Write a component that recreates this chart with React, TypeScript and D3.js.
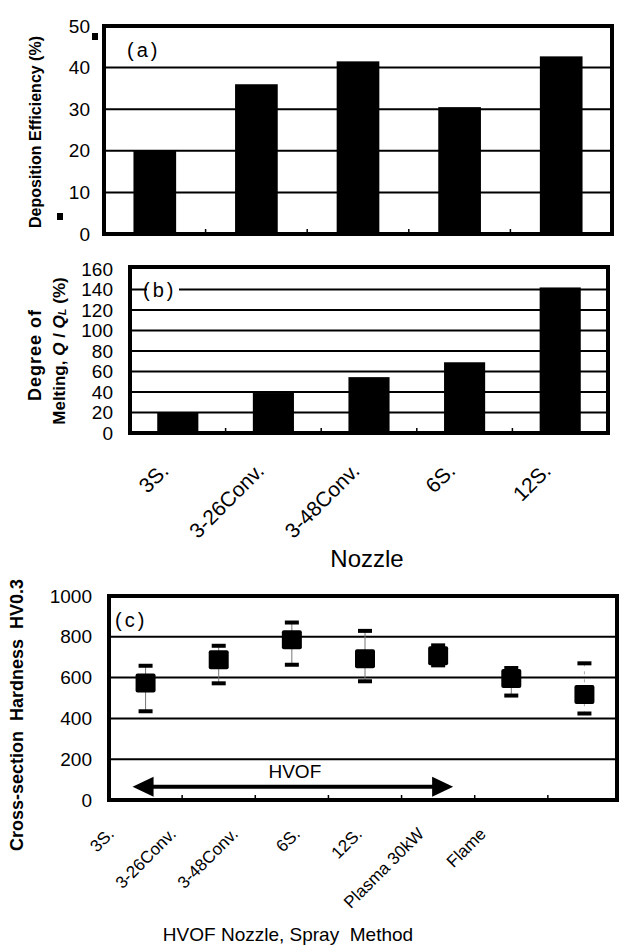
import React from "react";
import * as d3 from "d3";

// --- data ---
const NOZZLES = ["3S.", "3-26Conv.", "3-48Conv.", "6S.", "12S."];
const DEPOSITION = [20, 36, 41.5, 30.5, 42.7]; // (a) %
const MELTING = [20, 39, 54.5, 69, 142]; // (b) Q/QL %

const METHODS = ["3S.", "3-26Conv.", "3-48Conv.", "6S.", "12S.", "Plasma 30kW", "Flame"];
const HARD_MEAN = [573, 688, 785, 693, 707, 595, 517];
const HARD_MAX = [658, 756, 870, 829, 758, 647, 670];
const HARD_MIN = [435, 572, 663, 582, 660, 512, 424];

const TICKS_A = [0, 10, 20, 30, 40, 50];
const TICKS_B = [0, 20, 40, 60, 80, 100, 120, 140, 160];
const TICKS_C = [0, 200, 400, 600, 800, 1000];

const W = 619;
const H = 952;
const FONT = "'Liberation Sans', Arial, Helvetica, sans-serif";

export default function App() {
  // --- scales ---
  const xA = d3.scaleBand().domain(NOZZLES).range([104, 612]).paddingInner(0.58).paddingOuter(0.29);
  const yA = d3.scaleLinear().domain([0, 50]).range([234, 26]);

  const xB = d3.scaleBand().domain(NOZZLES).range([130, 608]).paddingInner(0.57).paddingOuter(0.285);
  const yB = d3.scaleLinear().domain([0, 160]).range([433, 269]);

  const xC = d3.scaleBand().domain(METHODS).range([109, 621]);
  const xCLabel = d3.scalePoint().domain(METHODS).range([115, 487]);
  const yC = d3.scaleLinear().domain([0, 1000]).range([800, 596]);
  const cRight = 617;

  const boundaryTicks = (x: d3.ScaleBand<string>, y0: number, right: number) =>
    x
      .domain()
      .slice(1)
      .map((d) => {
        const px = (x(d) as number) - (x.step() - x.bandwidth()) / 2;
        return px < right - 3 ? (
          <line key={d} x1={px} x2={px} y1={y0} y2={y0 - 5} stroke="#000" strokeWidth={1.5} />
        ) : null;
      });

  return (
    <div style={{ position: "absolute", left: 0, top: 0 }}>
      <svg width={W} height={H} style={{ display: "block", background: "#fff", fontFamily: FONT }}>
        <rect width={W} height={H} fill="#fff" />

        {/* ---------- (a) Deposition efficiency ---------- */}
        <g>
          {TICKS_A.slice(1, -1).map((t) => (
            <line key={t} x1={104} x2={612} y1={yA(t)} y2={yA(t)} stroke="#000" strokeWidth={2} />
          ))}
          {DEPOSITION.map((v, i) => (
            <rect
              key={i}
              x={xA(NOZZLES[i])}
              y={yA(v)}
              width={xA.bandwidth()}
              height={yA(0) - yA(v)}
              fill="#000"
            />
          ))}
          {boundaryTicks(xA, yA(0), 612)}
          <rect x={104} y={yA(50)} width={508} height={yA(0) - yA(50)} fill="none" stroke="#000" strokeWidth={4} />
          {TICKS_A.map((t) => (
            <text key={t} x={90} y={yA(t)} fontSize={19} textAnchor="end" dominantBaseline="central">
              {t}
            </text>
          ))}
          <rect x={92} y={33} width={6} height={7} fill="#000" />
          <rect x={57} y={213} width={6} height={7} fill="#000" />
          <text x={127} y={57} fontSize={20} letterSpacing={3}>
            (a)
          </text>
          <text
            transform={`translate(35,${(yA(0) + yA(50)) / 2 + 2}) rotate(-90)`}
            fontSize={16}
            fontWeight="bold"
            textAnchor="middle"
            dominantBaseline="central"
          >
            Deposition Efficiency (%)
          </text>
        </g>

        {/* ---------- (b) Degree of melting ---------- */}
        <g>
          {TICKS_B.slice(1, -1).map((t) => (
            <line key={t} x1={130} x2={608} y1={yB(t)} y2={yB(t)} stroke="#000" strokeWidth={2} />
          ))}
          <rect x={147} y={yB(140) - 3} width={32} height={6} fill="#fff" />
          {MELTING.map((v, i) => (
            <rect
              key={i}
              x={xB(NOZZLES[i])}
              y={yB(v)}
              width={xB.bandwidth()}
              height={yB(0) - yB(v)}
              fill="#000"
            />
          ))}
          {boundaryTicks(xB, yB(0), 608)}
          <rect x={130} y={yB(160) - 2} width={478} height={yB(0) - yB(160) + 2} fill="none" stroke="#000" strokeWidth={4} />
          {TICKS_B.map((t) => (
            <text key={t} x={113} y={yB(t)} fontSize={19} textAnchor="end" dominantBaseline="central">
              {t}
            </text>
          ))}
          <text x={143} y={297} fontSize={20} letterSpacing={3}>
            (b)
          </text>
          <text
            transform={`translate(35,${(yB(0) + yB(160)) / 2 + 4}) rotate(-90)`}
            fontSize={18}
            fontWeight="bold"
            letterSpacing={1}
            textAnchor="middle"
            dominantBaseline="central"
          >
            Degree of
          </text>
          <text
            transform={`translate(59,${(yB(0) + yB(160)) / 2}) rotate(-90)`}
            fontSize={17}
            fontWeight="bold"
            textAnchor="middle"
            dominantBaseline="central"
          >
            Melting,
            <tspan fontStyle="italic"> Q</tspan>
            <tspan> / </tspan>
            <tspan fontStyle="italic">Q</tspan>
            <tspan fontSize={11} dy={3} fontStyle="italic">
              L
            </tspan>
            <tspan dy={-3}> (%)</tspan>
          </text>
          {NOZZLES.map((n) => (
            <text
              key={n}
              transform={`translate(${(xB(n) as number) + xB.bandwidth() / 2 - 8},472) rotate(-45)`}
              fontSize={21}
              textAnchor="end"
            >
              {n}
            </text>
          ))}
          <text x={367} y={567} fontSize={24} textAnchor="middle">
            Nozzle
          </text>
        </g>

        {/* ---------- (c) Cross-section hardness ---------- */}
        <g>
          {TICKS_C.slice(1, -1).map((t) => (
            <line key={t} x1={109} x2={cRight} y1={yC(t)} y2={yC(t)} stroke="#000" strokeWidth={2} />
          ))}
          {boundaryTicks(xC, yC(0), cRight)}
          {METHODS.map((m, i) => {
            const cx = (xC(m) as number) + xC.bandwidth() / 2;
            return (
              <g key={m}>
                <line
                  x1={cx}
                  x2={cx}
                  y1={yC(HARD_MAX[i])}
                  y2={yC(HARD_MIN[i])}
                  stroke={m === "Flame" ? "#aaa" : "#777"}
                  strokeWidth={1}
                  strokeDasharray={m === "Flame" ? "3,5" : undefined}
                />
                <rect x={cx - 7} y={yC(HARD_MAX[i]) - 2} width={14} height={4} fill="#000" />
                <rect x={cx - 7} y={yC(HARD_MIN[i]) - 2} width={14} height={4} fill="#000" />
                <rect x={cx - 10} y={yC(HARD_MEAN[i]) - 9.5} width={20} height={19} rx={2} fill="#000" />
              </g>
            );
          })}
          {/* HVOF arrow */}
          {(() => {
            const ay = yC(65);
            const l = (xC("3S.") as number) + xC.bandwidth() / 2 - 13;
            const r = (xC("12S.") as number) + xC.bandwidth() / 2 + 15;
            return (
              <g>
                <line x1={l + 18} x2={r - 18} y1={ay} y2={ay} stroke="#000" strokeWidth={4} />
                <path d={`M${l},${ay} L${l + 21},${ay - 10} L${l + 21},${ay + 10} Z`} fill="#000" />
                <path d={`M${r},${ay} L${r - 21},${ay - 10} L${r - 21},${ay + 10} Z`} fill="#000" />
                <text x={(l + r) / 2 + 2} y={yC(107)} fontSize={19} textAnchor="middle">
                  HVOF
                </text>
              </g>
            );
          })()}
          <rect x={109} y={yC(1000)} width={cRight - 109} height={yC(0) - yC(1000)} fill="none" stroke="#000" strokeWidth={4} />
          {TICKS_C.map((t) => (
            <text key={t} x={92} y={yC(t)} fontSize={19} textAnchor="end" dominantBaseline="central">
              {t}
            </text>
          ))}
          <text x={115} y={627} fontSize={20} letterSpacing={3}>
            (c)
          </text>
          <text
            transform={`translate(17,715) rotate(-90)`}
            fontSize={18}
            fontWeight="bold"
            textAnchor="middle"
            dominantBaseline="central"
            style={{ whiteSpace: "pre" }}
          >
            {"Cross-section  Hardness  HV0.3"}
          </text>
          {METHODS.map((m) => (
            <text
              key={m}
              transform={`translate(${xCLabel(m)},835) rotate(-45)`}
              fontSize={17}
              textAnchor="end"
            >
              {m}
            </text>
          ))}
          <text x={288} y={941} fontSize={19} textAnchor="middle" style={{ whiteSpace: "pre" }}>
            {"HVOF Nozzle, Spray  Method"}
          </text>
        </g>
      </svg>
    </div>
  );
}
